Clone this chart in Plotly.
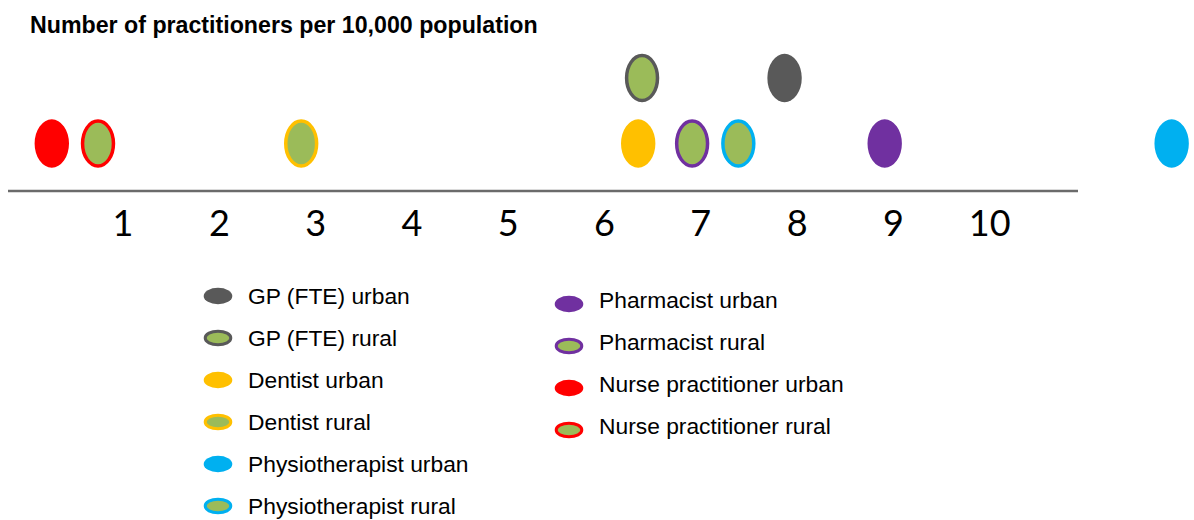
import plotly.graph_objects as go

# ---------------- data ----------------
categories = [
    "GP (FTE) urban", "GP (FTE) rural",
    "Dentist urban", "Dentist rural",
    "Physiotherapist urban", "Physiotherapist rural",
    "Pharmacist urban", "Pharmacist rural",
    "Nurse practitioner urban", "Nurse practitioner rural",
]
values = [7.87, 6.39, 6.35, 2.85, 11.89, 7.39, 8.91, 6.91, 0.26, 0.74]
row_level = [2, 2, 1, 1, 1, 1, 1, 1, 1, 1]
tick_values = [1, 2, 3, 4, 5, 6, 7, 8, 9, 10]
tick_labels = ["1", "2", "3", "4", "5", "6", "7", "8", "9", "10"]
title_text = "Number of practitioners per 10,000 population"

# ---------------- styles ----------------
edge_colors = ["#595959", "#595959", "#FFC000", "#FFC000", "#00B0F0", "#00B0F0",
               "#7030A0", "#7030A0", "#FF0000", "#FF0000"]
is_rural = [False, True, False, True, False, True, False, True, False, True]
RURAL_FILL = "#9BBB59"

W, H = 1194, 520
PX0, PXU = 26.76, 96.29          # pixel of value 0, pixels per unit
ROW1_PX, ROW_STEP = 143.5, 65.5  # pixel of row 1, pixels per row level
LINE_Y = 191
FONT = "Arial, Liberation Sans, sans-serif"

x_range = [(0 - PX0) / PXU, (W - PX0) / PXU]
y_range = [1 - (H - ROW1_PX) / ROW_STEP, 1 + ROW1_PX / ROW_STEP]

fig = go.Figure()

# invisible traces carrying the data (hover)
for name, v, lv in zip(categories, values, row_level):
    fig.add_trace(go.Scatter(x=[v], y=[lv], mode="markers", name=name,
                             marker=dict(size=34, opacity=0), showlegend=False,
                             hovertemplate=name + ": %{x}<extra></extra>"))

shapes = []
HW, HH = 17.2, 24.2  # ellipse half sizes in px
for v, lv, col, rural in zip(values, row_level, edge_colors, is_rural):
    lw = 3.5 if rural else 0
    hw = (HW - lw / 2) / PXU
    hh = (HH - lw / 2) / ROW_STEP
    shapes.append(dict(type="circle", xref="x", yref="y",
                       x0=v - hw, x1=v + hw, y0=lv - hh, y1=lv + hh,
                       fillcolor=RURAL_FILL if rural else col,
                       line=dict(color=col, width=lw)))

# axis line
shapes.append(dict(type="line", xref="paper", yref="paper",
                   x0=8 / W, x1=1078 / W, y0=1 - LINE_Y / H, y1=1 - LINE_Y / H,
                   line=dict(color="#6B6B6B", width=2.5)))

# legend (manual, two columns)
annotations = []
col1 = list(range(0, 6))
col2 = list(range(6, 10))
leg_cols = [(col1, 218, 246, 296, 42, 0), (col2, 569, 597, 300, 42, 4)]
LHW, LHH = 14.3, 8.3
for idxs, mx, tx, y0, step, moff in leg_cols:
    for k, i in enumerate(idxs):
        ty = y0 + k * step
        my = ty + moff
        rural = is_rural[i]
        lw = 3 if rural else 0
        hw, hh = LHW - lw / 2, LHH - lw / 2
        shapes.append(dict(type="circle", xref="paper", yref="paper",
                           x0=(mx - hw) / W, x1=(mx + hw) / W,
                           y0=1 - (my + hh) / H, y1=1 - (my - hh) / H,
                           fillcolor=RURAL_FILL if rural else edge_colors[i],
                           line=dict(color=edge_colors[i], width=lw)))
        annotations.append(dict(text=categories[i], xref="paper", yref="paper",
                                x=tx / W, y=1 - ty / H, xanchor="left", yanchor="middle",
                                showarrow=False,
                                font=dict(family=FONT, size=22.8, color="#000000")))

fig.update_layout(
    width=W, height=H,
    margin=dict(l=0, r=0, t=0, b=0),
    paper_bgcolor="white", plot_bgcolor="white",
    showlegend=False,
    title=dict(text="<b>" + title_text + "</b>", xref="paper", yref="paper",
               x=30 / W, y=1 - 25 / H, xanchor="left", yanchor="middle",
               font=dict(family=FONT, size=23.2, color="#000000")),
    xaxis=dict(range=x_range, domain=[0, 1], anchor="free", position=1 - LINE_Y / H,
               tickmode="array", tickvals=tick_values, ticktext=tick_labels,
               showline=False, showgrid=False, zeroline=False, ticks="",
               ticklabelstandoff=8,
               tickfont=dict(family="Lato, Open Sans, sans-serif", size=36, color="#000000"),
               fixedrange=True),
    yaxis=dict(range=y_range, visible=False, fixedrange=True),
    shapes=shapes,
    annotations=annotations,
)

fig.write_html("out.html", config={"displayModeBar": False},
               post_script="document.body.style.margin='0';")
